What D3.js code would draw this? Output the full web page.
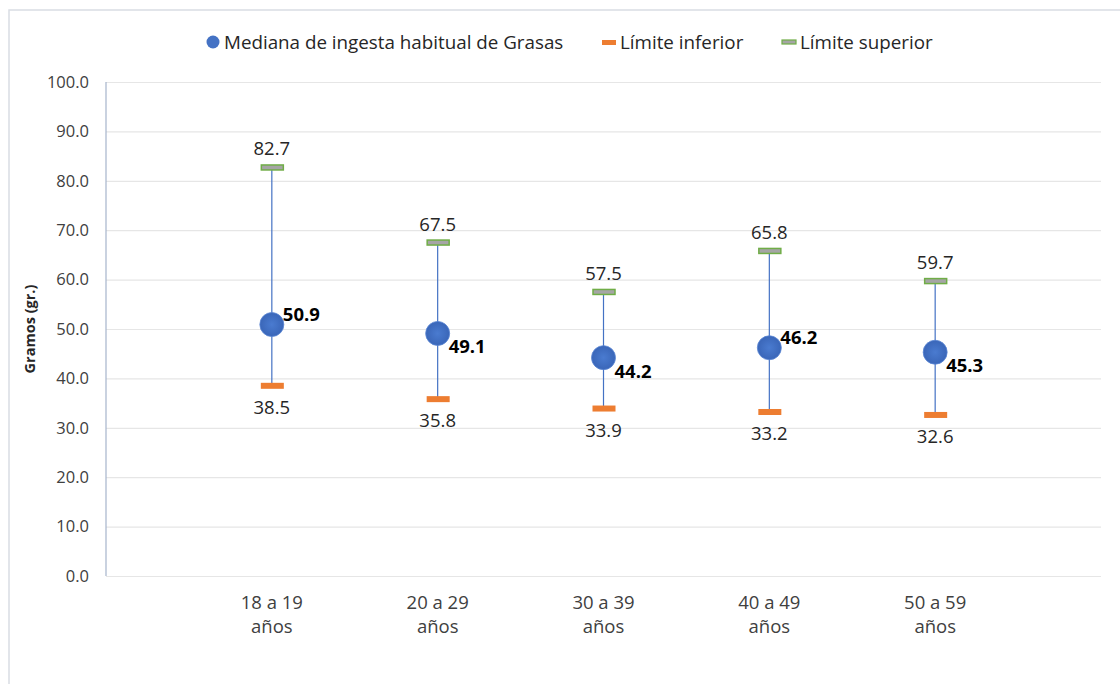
<!DOCTYPE html>
<html>
<head>
<meta charset="utf-8">
<script src="https://cdn.jsdelivr.net/npm/d3@7"></script>
<style>
  body { margin: 0; background: #fff; }
  svg { display: block; }
</style>
</head>
<body>
<div id="chart"></div>
<script>
// data
const categories = ['18 a 19 años', '20 a 29 años', '30 a 39 años', '40 a 49 años', '50 a 59 años'];
const medians = [50.9, 49.1, 44.2, 46.2, 45.3];
const lower = [38.5, 35.8, 33.9, 33.2, 32.6];
const upper = [82.7, 67.5, 57.5, 65.8, 59.7];
const yTicks = [0, 10, 20, 30, 40, 50, 60, 70, 80, 90, 100];
const seriesNames = ['Mediana de ingesta habitual de Grasas', 'Límite inferior', 'Límite superior'];
// where the bold median label sits (Excel moved some to avoid the line)
const medianLabelSide = ['above', 'below', 'below', 'above', 'below'];

const width = 1120,
    height = 684;
const marginTop = 82,
    marginBottom = 108,
    marginLeft = 106,
    marginRight = 19;

const font = '"Open Sans", Lato, sans-serif';
const blue = '#4472c4';
const orange = '#ed7d31';
const green = '#70ad47';

const svg = d3
    .select('#chart')
    .append('svg')
    .attr('width', width)
    .attr('height', height)
    .attr('viewBox', [0, 0, width, height]);

// chart frame
svg.append('rect')
    .attr('x', 9)
    .attr('y', 10)
    .attr('width', width + 10)
    .attr('height', height + 10)
    .attr('fill', 'white')
    .attr('stroke', '#d9dde4')
    .attr('stroke-width', 1.5);

const x = d3
    .scalePoint(categories, [marginLeft, width - marginRight])
    .padding(1);
const y = d3.scaleLinear([0, 100], [height - marginBottom, marginTop]);

// gridlines + y labels
svg.append('g')
    .attr('transform', `translate(${marginLeft},0)`)
    .call(
        d3
            .axisLeft(y)
            .tickValues(yTicks)
            .tickFormat(d3.format('.1f'))
            .tickSize(0)
            .tickPadding(17)
    )
    .call((g) => g.select('.domain').remove())
    .call((g) =>
        g
            .selectAll('.tick line')
            .attr('x2', width - marginRight - marginLeft)
            .attr('stroke', '#e6e6e6')
            .attr('stroke-width', 1.2)
    )
    .call((g) =>
        g
            .selectAll('.tick text')
            .attr('font-family', font)
            .attr('font-size', 16.5)
            .attr('fill', '#404040')
    );

// y axis line
svg.append('line')
    .attr('x1', marginLeft)
    .attr('x2', marginLeft)
    .attr('y1', y(100))
    .attr('y2', y(0))
    .attr('stroke', '#a6b4cc')
    .attr('stroke-width', 1.2);

// y title
svg.append('text')
    .attr('transform', `translate(35,${(y(0) + y(100)) / 2}) rotate(-90)`)
    .attr('text-anchor', 'middle')
    .attr('font-family', font)
    .attr('font-size', 14.5)
    .attr('font-weight', 'bold')
    .attr('fill', '#262626')
    .text('Gramos (gr.)');

// x labels, two lines
svg.append('g')
    .selectAll('text')
    .data(categories)
    .join('text')
    .attr('x', (d) => x(d))
    .attr('y', y(0) + 33)
    .attr('text-anchor', 'middle')
    .attr('font-family', font)
    .attr('font-size', 18.5)
    .attr('fill', '#404040')
    .call((t) =>
        t
            .selectAll('tspan')
            .data((d) => [d.replace(' años', ''), 'años'])
            .join('tspan')
            .attr('x', function () {
                return this.parentNode.getAttribute('x');
            })
            .attr('dy', (d, i) => (i === 0 ? 0 : 24))
            .text((d) => d)
    );

const I = d3.range(categories.length);

// error lines
svg.append('g')
    .selectAll('line')
    .data(I)
    .join('line')
    .attr('x1', (i) => x(categories[i]))
    .attr('x2', (i) => x(categories[i]))
    .attr('y1', (i) => y(upper[i]))
    .attr('y2', (i) => y(lower[i]))
    .attr('stroke', blue)
    .attr('stroke-width', 1.2);

// lower caps
svg.append('g')
    .selectAll('rect')
    .data(I)
    .join('rect')
    .attr('x', (i) => x(categories[i]) - 11)
    .attr('y', (i) => y(lower[i]) - 3)
    .attr('width', 23)
    .attr('height', 6)
    .attr('fill', orange);

// upper caps
svg.append('g')
    .selectAll('rect')
    .data(I)
    .join('rect')
    .attr('x', (i) => x(categories[i]) - 10.5)
    .attr('y', (i) => y(upper[i]) - 2.5)
    .attr('width', 22)
    .attr('height', 5)
    .attr('fill', '#a5a5a5')
    .attr('stroke', green)
    .attr('stroke-width', 1.5);

// median dots
const grad = svg.append('defs').append('radialGradient').attr('id', 'dot-grad');
grad.append('stop').attr('offset', '0%').attr('stop-color', '#4a7bd0');
grad.append('stop').attr('offset', '100%').attr('stop-color', '#3a66b8');

svg.append('g')
    .selectAll('circle')
    .data(I)
    .join('circle')
    .attr('cx', (i) => x(categories[i]))
    .attr('cy', (i) => y(medians[i]))
    .attr('r', 12)
    .attr('fill', 'url(#dot-grad)')
    .attr('stroke', '#5b86d4')
    .attr('stroke-width', 0.8);

// value labels
const fmt = d3.format('.1f');
svg.append('g')
    .attr('font-family', font)
    .attr('font-size', 18.5)
    .attr('fill', '#262626')
    .attr('text-anchor', 'middle')
    .selectAll('text')
    .data(I)
    .join('text')
    .attr('x', (i) => x(categories[i]))
    .attr('y', (i) => y(upper[i]) - 12)
    .text((i) => fmt(upper[i]));

svg.append('g')
    .attr('font-family', font)
    .attr('font-size', 18.5)
    .attr('fill', '#262626')
    .attr('text-anchor', 'middle')
    .selectAll('text')
    .data(I)
    .join('text')
    .attr('x', (i) => x(categories[i]))
    .attr('y', (i) => y(lower[i]) + 28)
    .text((i) => fmt(lower[i]));

svg.append('g')
    .attr('font-family', font)
    .attr('font-size', 18.5)
    .attr('font-weight', 'bold')
    .attr('fill', '#000')
    .selectAll('text')
    .data(I)
    .join('text')
    .attr('x', (i) => x(categories[i]) + 11)
    .attr('y', (i) => y(medians[i]) + (medianLabelSide[i] === 'above' ? -4 : 20))
    .text((i) => fmt(medians[i]));

// legend
const legend = svg.append('g').attr('font-family', font).attr('font-size', 18.8).attr('fill', '#262626');
const legendX = [207, 602, 782];

legend
    .append('circle')
    .attr('cx', legendX[0] + 6)
    .attr('cy', 42)
    .attr('r', 6.5)
    .attr('fill', blue);
legend
    .append('rect')
    .attr('x', legendX[1])
    .attr('y', 40)
    .attr('width', 14)
    .attr('height', 5)
    .attr('fill', orange);
legend
    .append('rect')
    .attr('x', legendX[2])
    .attr('y', 40)
    .attr('width', 14)
    .attr('height', 4)
    .attr('fill', '#a5a5a5')
    .attr('stroke', green)
    .attr('stroke-width', 1.2);

legend
    .selectAll('text')
    .data(seriesNames)
    .join('text')
    .attr('x', (d, i) => legendX[i] + (i === 0 ? 17 : 18))
    .attr('y', 48.5)
    .text((d) => d);
</script>
</body>
</html>
